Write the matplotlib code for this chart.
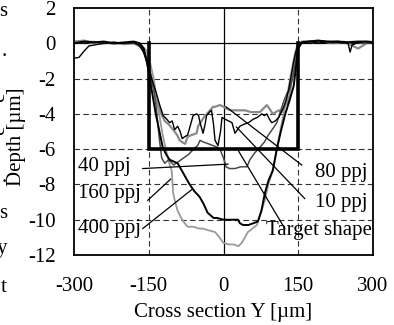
import numpy as np
import matplotlib
matplotlib.use("Agg")
import matplotlib.pyplot as plt

plt.rcParams['font.family'] = ['Liberation Serif', 'DejaVu Serif']
plt.rcParams['axes.unicode_minus'] = False

# depth profiles (cross section Y [um], depth [um])
x10 = [-300, -290, -280, -270, -260, -240, -220, -200, -180, -170, -162, -155, -148, -142, -135,
       -128, -121, -114, -108, -103, -98, -92, -87, -83, -78, -72, -66, -61, -54, -50, -47, -41,
       -37, -34, -28, -24, -20, -17, -11, -6, -3, 3, 10, 17, 20, 23, 28, 33, 40, 50, 55, 60, 68,
       77, 82, 87, 92, 97, 104, 111, 116, 121, 126, 131, 136, 141, 146, 152, 160, 175, 190, 210,
       230, 250, 254, 258, 270, 285, 300]
y10 = [-0.85, -0.8, -0.45, -0.15, -0.1, 0, 0.05, 0, 0.05, -0.1, -0.4, -0.9, -1.6, -2.2, -2.8,
       -3.5, -4.1, -4.3, -4.5, -4.4, -4.9, -4.7, -5.0, -5.4, -5.3, -5.2, -4.6, -4.1, -4.0, -4.1,
       -4.5, -5.1, -4.6, -4.1, -3.9, -3.8, -4.6, -5.5, -5.8, -5.0, -4.2, -4.3, -4.4, -4.5, -4.8,
       -5.1, -4.9, -4.7, -4.6, -4.5, -4.4, -4.3, -4.2, -4.0, -4.1, -4.0, -4.3, -4.5, -4.4, -4.2,
       -3.9, -3.6, -3.2, -2.6, -1.8, -1.0, -0.4, 0.0, 0.1, 0.1, 0.0, 0.1, 0.05, 0.0, -0.5, -0.1,
       0.05, 0.1, 0.0]

x40 = [-300, -280, -260, -240, -220, -200, -180, -168, -160, -153, -146, -140, -135, -132, -128,
       -124, -118, -110, -100, -90, -80, -70, -60, -52, -47, -40, -30, -21, -12, -7, -3, 0, 5, 12,
       23, 35, 47, 53, 58, 63, 73, 82, 90, 100, 107, 115, 122, 128, 133, 140, 146, 152, 160, 180,
       200, 220, 240, 260, 280, 300]
y40 = [0, 0.05, 0.1, 0, 0.05, 0, 0, -0.1, -0.5, -1.2, -2.0, -2.6, -3.6, -4.5, -5.6, -6.5, -6.8,
       -6.6, -6.9, -6.7, -6.5, -6.3, -6.0, -5.8, -5.5, -5.6, -5.7, -5.8, -5.9, -6.0, -6.3, -6.5,
       -7.0, -7.1, -7.1, -7.0, -7.0, -6.6, -6.4, -6.2, -5.9, -5.6, -5.2, -4.8, -4.5, -3.8, -3.2,
       -2.8, -2.6, -1.8, -0.8, -0.1, 0.1, 0.05, 0.1, 0, 0.1, 0.05, 0, 0]

x80 = [-300, -280, -260, -240, -220, -200, -180, -166, -158, -150, -144, -138, -132, -125, -118,
       -110, -101, -93, -88, -83, -77, -72, -64, -54, -51, -44, -37, -30, -21, -17, -7, 0, 6, 15,
       25, 33, 43, 55, 65, 73, 80, 87, 92, 99, 105, 111, 117, 122, 127, 132, 139, 145, 150, 158,
       170, 190, 210, 230, 250, 270, 290, 300]
y80 = [0.1, 0.15, 0.05, 0, 0.05, -0.05, 0, -0.2, -0.6, -1.3, -2.0, -2.8, -3.4, -4.0, -4.4, -4.6,
       -4.9, -5.2, -5.5, -5.6, -5.7, -5.3, -5.2, -5.1, -4.7, -4.4, -4.1, -3.9, -3.6, -3.6, -3.5,
       -3.6, -3.7, -3.8, -3.8, -3.8, -3.8, -3.9, -3.9, -3.9, -3.7, -3.5, -3.7, -4.0, -3.9, -3.8,
       -3.9, -3.6, -3.4, -3.0, -1.7, -0.8, -0.2, 0.05, 0.1, 0.15, 0.05, 0.1, 0.0, -0.3, 0.05, 0.1]

x160 = [-300, -280, -260, -240, -220, -200, -180, -165, -155, -148, -140, -134, -128, -122, -115,
        -108, -104, -101, -96, -92, -85, -78, -72, -60, -50, -42, -30, -17, -8, -1, 10, 20, 30,
        37, 43, 49, 58, 67, 75, 83, 90, 99, 107, 115, 122, 130, 137, 143, 148, 155, 165, 180, 200,
        220, 240, 260, 280, 300]
y160 = [0.05, 0.1, 0, 0.05, -0.05, 0, 0.05, -0.1, -0.4, -1.0, -2.0, -3.2, -4.2, -5.2, -6.1, -6.9,
        -7.2, -8.5, -9.1, -9.5, -9.9, -10.2, -10.4, -10.4, -10.5, -10.5, -10.6, -10.7, -11.0,
        -11.3, -11.4, -11.4, -11.5, -11.3, -11.0, -10.7, -10.5, -10.3, -9.6, -8.9, -8.0, -7.2,
        -6.0, -4.8, -3.8, -2.6, -1.5, -0.6, -0.1, 0.1, 0.1, 0.05, 0.1, 0, 0.05, 0.1, 0.05, 0]

x400 = [-300, -280, -260, -240, -220, -200, -180, -168, -160, -154, -148, -142, -136, -130, -122,
        -115, -108, -100, -92, -80, -68, -58, -48, -40, -32, -20, -13, 0, 15, 29, 33, 39, 50, 60,
        69, 76, 83, 90, 99, 107, 115, 124, 133, 141, 146, 150, 156, 170, 190, 210, 230, 250, 270,
        290, 300]
y400 = [0, 0.1, 0.05, 0.1, 0, 0.05, 0.1, 0, -0.3, -1.0, -2.0, -3.0, -4.0, -4.8, -5.9, -6.3, -6.6,
        -6.7, -6.8, -7.4, -8.0, -8.4, -8.7, -9.1, -9.6, -9.9, -9.9, -10.0, -10.0, -10.0, -10.2,
        -10.3, -10.3, -10.2, -10.1, -9.5, -8.5, -7.8, -7.2, -6.0, -5.0, -4.0, -3.2, -2.4, -1.2,
        -0.3, 0.0, 0.1, 0.15, 0.1, 0.1, 0.05, 0.1, 0.1, 0.05]

# target shape (rectangular groove 300 um wide, 6 um deep)
xt = [-150, -150, 150, 150]
yt = [0, -6, -6, 0]

# labels: text, text position, leader line start, leader line end
labels = ['40 ppj', '160 ppj', '400 ppj', '80 ppj', '10 ppj', 'Target shape']
lab_xy = [(-291, -7.0), (-291, -8.5), (-291, -10.5), (289, -7.3), (289, -9.0), (298, -10.6)]
lead_from = [(-162, -7.1), (-152, -8.9), (-162, -10.5), (157, -6.9), (163, -8.8), (123, -10.5)]
lead_to = [(9, -6.85), (-106, -7.7), (-64, -8.3), (5, -3.6), (26, -4.75), (29, -6.05)]

FS = 15

fig = plt.figure(figsize=(3.94, 3.25), dpi=100)
ax = fig.add_axes([74 / 394, 1 - 255 / 325, 299 / 394, 247 / 325])

for yy in [-10, -8, -6, -4, -2]:
    ax.axhline(yy, color='#333333', lw=0.8, ls=(0, (5, 3)), zorder=1)
for xx in [-150, 150]:
    ax.axvline(xx, color='#333333', lw=0.8, ls=(0, (5, 3)), zorder=1)
ax.axhline(0, color='black', lw=0.9, zorder=1)
ax.axvline(0, color='black', lw=0.9, zorder=1)

ax.plot(x160, y160, color='#9a9a9a', lw=1.3, zorder=2)
ax.plot(x80, y80, color='#8a8a8a', lw=1.6, zorder=2)
ax.plot(x40, y40, color='#4a4a4a', lw=1.1, zorder=3)
ax.plot(x10, y10, color='black', lw=1.0, zorder=3)
ax.plot(x400, y400, color='black', lw=1.4, zorder=3)
ax.plot(xt, yt, color='black', lw=2.6, zorder=4, solid_joinstyle='miter')

for txt, (tx, ty), p0, p1 in zip(labels, lab_xy, lead_from, lead_to):
    ax.plot([p0[0], p1[0]], [p0[1], p1[1]], color='black', lw=0.9, zorder=5)
    ha = 'left' if tx < 0 else 'right'
    ax.text(tx, ty, txt, ha=ha, va='center', fontsize=FS, zorder=6)

ax.set_xlim(-300, 300)
ax.set_ylim(-12, 2)
ax.set_xticks([-300, -150, 0, 150, 300])
ax.set_yticks(np.arange(-12, 3, 2))
ax.tick_params(length=0, labelsize=FS)
ax.tick_params(axis='x', pad=16)
ax.tick_params(axis='y', pad=13)
for s in ax.spines.values():
    s.set_linewidth(1.3)

ax.set_xlabel('Cross section Y [µm]', fontsize=FS, labelpad=5)
fig.text(17 / 394, 1 - 137 / 325, 'Depth [µm]', rotation=90, ha='center', va='center', fontsize=FS)

# clipped fragments of the surrounding page text on the left edge
frag = ['s', '.', 'e', 'e', '.', 's', 'y', 't']
frag_y = [12, 52, 97, 130, 177, 214, 249, 288]
frag_rot = [0, 0, 90, 90, 0, 0, 0, 0]
for f, fy, r in zip(frag, frag_y, frag_rot):
    fx = 9 if r else 7
    fig.text(fx / 394, 1 - fy / 325, f, ha='right', va='center', rotation=r, fontsize=FS)

fig.savefig('out.png', dpi=100)
